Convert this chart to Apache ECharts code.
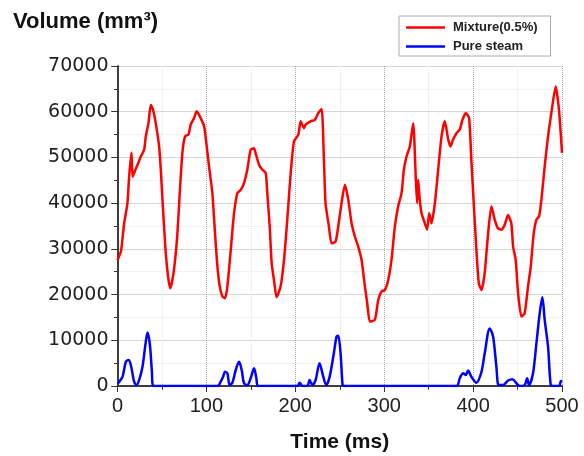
<!DOCTYPE html>
<html>
<head>
<meta charset="utf-8">
<script src="https://cdn.jsdelivr.net/npm/echarts@6/dist/echarts.min.js"></script>
<style>
  html, body { margin: 0; padding: 0; background: #fff; }
  #chart { width: 584px; height: 456px; }
</style>
</head>
<body>
<div id="chart"></div>
<script>
// Mixture(0.5%) volume curve
var mixTime = [0, 2, 4, 7.5, 9.4, 11.2, 13.1, 15.7, 16.9, 18.7, 22.5, 26.2, 30, 31.8, 34.8, 37.5, 40, 43, 46.8, 48.7,
  50.6, 52.4, 54.3, 56.9, 59.2, 61.8, 64.8, 67.4, 70, 73, 76, 79.8, 82.4, 86.1, 89.1, 93.6, 97.4, 99.3, 103, 106.7,
  109.7, 112.4, 115, 118, 121, 123.6, 127.4, 131.1, 134.8, 138.6, 142.3, 146, 149.8, 153.6, 155.4, 159.2, 163, 166.7, 168.5, 171.2,
  173.4, 176, 179, 183.5, 187.3, 191, 194.8, 198.5, 203.4, 206, 209.7, 211.6, 217.2, 222, 225.8, 229.6, 232.2, 234, 237.8, 240.8,
  245.3, 248.3, 252, 255.8, 259.6, 263.3, 267, 270.8, 274.5, 278.3, 280.9, 283.9, 289.5, 293.3, 297, 300.7, 304.5, 308.2, 312, 315.7,
  319.5, 322.1, 325.1, 328.8, 332.6, 335.6, 337, 338.2, 340, 342, 345.7, 348.3, 350.6, 353.2, 357, 360.7, 364.5, 368.2,
  372, 374.5, 377.5, 381.3, 385, 388, 391.8, 395.5, 398, 400.7, 403.7, 406.4, 409.4, 413, 416.9, 420.6, 424.3, 428,
  431.8, 435.6, 439.3, 443, 445, 447.9, 450.6, 454.3, 458, 461.8, 464.8, 468.2, 471.2, 474.2, 476.8, 480.5, 484.3, 488,
  492.9, 496.6, 500];
var mixVolume = [27500, 28500, 29500, 35600, 37800, 40000, 45800, 51100, 45800, 46600, 48400, 50200, 51700, 54600, 57500, 61500, 60400, 57500, 52400, 47300,
  40700, 34900, 29000, 23900, 21400, 23200, 27600, 33400, 42200, 51000, 54600, 55000, 57200, 58600, 60100, 58600, 56800, 54200, 48000, 42200,
  33400, 26100, 21800, 19600, 19200, 21800, 29800, 37800, 42200, 42900, 44400, 47300, 51700, 52000, 50900, 48400, 47300, 46600, 42200, 34900,
  26900, 23200, 19400, 21800, 27600, 36400, 46600, 53500, 55000, 57900, 56400, 57200, 57900, 58200, 59700, 60600, 49500, 40000, 34900, 31200,
  31600, 34900, 40000, 44000, 40700, 35600, 32700, 30500, 27600, 21800, 18100, 14100, 14500, 18800, 20700, 21000, 23200, 27600, 34900, 39300,
  42200, 47300, 50200, 52400, 57500, 45100, 40000, 45100, 40700, 37800, 35600, 34200, 37800, 35600, 40000, 47300, 54600, 57900,
  53900, 52400, 53900, 55300, 56100, 58200, 59700, 58600, 49500, 40000, 29800, 22500, 21000, 24700, 33400, 39300, 36400, 34500,
  34200, 35300, 37400, 35600, 30500, 27600, 20300, 15200, 15900, 21800, 26100, 33400, 36400, 37100, 40700, 48000, 54600, 59700,
  65500, 60400, 51000];

// Pure steam volume curve
var steamTime = [0, 1.1, 5.6, 9.4, 12.4, 15, 18.7, 21.3, 24.3, 28.1, 31.1, 33.7, 36.3, 38.6, 40.4,
  112.4, 116.1, 118.7, 121, 123.6, 126.2, 129.2, 133, 136.7, 139.7, 142.3, 146, 149.8, 153.6, 156.2, 158.4,
  202.2, 204.9, 207.9, 213.5, 216.1, 219.1, 222.8, 227.3, 231, 234.8, 238.6, 243.4, 246.4, 248.3, 250.9, 253.2, 254.5,
  381.3, 385, 388.8, 391.8, 394.4, 398.1, 403.7, 409.4, 413.1, 418.7, 422.5, 426.2, 428.8, 433.7, 439.3, 444.2, 448.7, 452.4,
  458, 460.7, 462.9, 467.4, 471.2, 474.9, 477.9, 480.5, 484.3, 487.3, 489.9, 496.6, 498.5, 500];
var steamVolume = [500, 730, 2000, 5300, 5700, 4600, 950, 200, 1300, 4200, 8600, 11700, 9300, 3500, 0,
  0, 950, 2000, 3100, 2800, 200, 700, 3500, 5300, 3500, 600, 200, 1700, 3900, 1700, 0,
  0, 700, 0, 0, 1300, 200, 1300, 5000, 2400, 200, 2000, 7200, 10800, 11000, 7200, 200, 0,
  0, 1700, 2800, 2400, 3400, 2000, 700, 3100, 7200, 12600, 10800, 4200, 200, 200, 1200, 1500, 600, 0,
  200, 1700, 200, 2800, 9300, 15900, 19400, 14500, 8600, 200, 0, 0, 950, 1200];

var xTicks = { min: 0, max: 500, interval: 100 };
var yTicks = { min: 0, max: 70000, interval: 10000 };

function pairs(xs, ys) {
  return xs.map(function (x, i) { return [x, ys[i]]; });
}

var chart = echarts.init(document.getElementById('chart'));

var axisLine = { show: true, lineStyle: { color: '#333', width: 1.5 } };
var tickStyle = { color: '#333', width: 1 };

// bottom/left ticks point out, top/right ticks point in (Origin style frame)
function frameAxis(pos, inside, ticks) {
  return {
    type: 'value', position: pos,
    min: ticks.min, max: ticks.max, interval: ticks.interval,
    axisLine: axisLine,
    axisTick: { show: true, inside: inside, length: 6, lineStyle: tickStyle },
    minorTick: { show: true, splitNumber: 2, length: 3.5, lineStyle: tickStyle },
    axisLabel: { show: false },
    splitLine: { show: false }
  };
}

var option = {
  animation: false,
  backgroundColor: '#fff',
  textStyle: { fontFamily: 'Liberation Sans, Arial, sans-serif' },
  title: {
    text: 'Volume (mm³)',
    left: 8,
    top: 6,
    textStyle: { fontSize: 22, fontWeight: 'bold', color: '#111', fontFamily: 'Liberation Sans, Arial, sans-serif' }
  },
  legend: {
    orient: 'vertical',
    left: 399,
    top: 16,
    width: 161,
    padding: [5, 13, 3, 7],
    itemGap: 6,
    itemWidth: 39,
    itemHeight: 2.5,
    icon: 'rect',
    borderColor: '#aaa',
    borderWidth: 1,
    backgroundColor: '#fff',
    textStyle: { fontSize: 13, fontWeight: 'bold', color: '#222', padding: [0, 0, 0, 3] },
    data: ['Mixture(0.5%)', 'Pure steam']
  },
  grid: { left: 117.5, right: 22, top: 66, bottom: 70, outerBoundsMode: 'none' },
  xAxis: [{
    type: 'value',
    min: xTicks.min, max: xTicks.max, interval: xTicks.interval,
    name: 'Time (ms)',
    nameLocation: 'middle',
    nameGap: 46,
    nameTextStyle: { fontSize: 21, fontWeight: 'bold', color: '#111' },
    axisLine: axisLine,
    axisTick: { show: true, inside: false, length: 6, lineStyle: tickStyle },
    minorTick: { show: true, splitNumber: 2, length: 3.5, lineStyle: tickStyle },
    axisLabel: { fontSize: 20, color: '#222', margin: 10 },
    splitLine: { show: true, lineStyle: { color: '#aaa', type: 'dotted' } },
    minorSplitLine: { show: true, lineStyle: { color: '#e4e4e4', type: 'dotted' } }
  }, frameAxis('top', true, xTicks)],
  yAxis: [{
    type: 'value',
    min: yTicks.min, max: yTicks.max, interval: yTicks.interval,
    axisLine: axisLine,
    axisTick: { show: true, inside: false, length: 6, lineStyle: tickStyle },
    minorTick: { show: true, splitNumber: 2, length: 3.5, lineStyle: tickStyle },
    axisLabel: {
      fontSize: 19, color: '#222', margin: 9, fontFamily: 'DejaVu Sans',
      formatter: function (v) { return String(v); }
    },
    splitLine: { show: true, lineStyle: { color: '#aaa', type: 'dotted' } },
    minorSplitLine: { show: true, lineStyle: { color: '#e4e4e4', type: 'dotted' } }
  }, frameAxis('right', true, yTicks)],
  series: [{
    name: 'Mixture(0.5%)',
    type: 'line',
    symbol: 'none',
    smooth: 0.2,
    data: pairs(mixTime, mixVolume),
    lineStyle: { color: '#ff0000', width: 2.5 },
    itemStyle: { color: '#ff0000' }
  }, {
    name: 'Pure steam',
    type: 'line',
    symbol: 'none',
    smooth: 0.3,
    data: pairs(steamTime, steamVolume),
    lineStyle: { color: '#0000ff', width: 2.5 },
    itemStyle: { color: '#0000ff' }
  }]
};

chart.setOption(option);
</script>
</body>
</html>
